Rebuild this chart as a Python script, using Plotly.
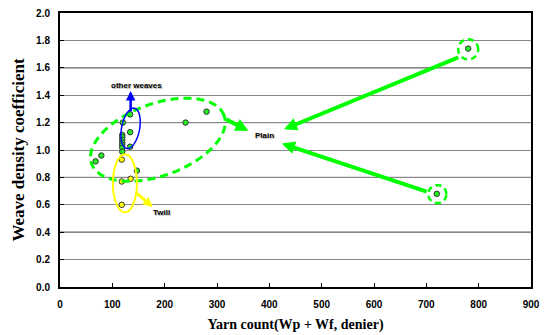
import numpy as np
import plotly.graph_objects as go

# ---- data ----
plain_x = [780, 720, 134, 280, 240, 120, 134, 119, 119, 119, 119, 119, 119, 119, 134, 79, 68, 147]
plain_y = [1.74, 0.68, 1.26, 1.28, 1.20, 1.20, 1.13, 1.11, 1.095, 1.073, 1.053, 1.036, 1.017, 0.988, 1.024, 0.96, 0.917, 0.849]
twill_x = [118, 118, 135, 118]
twill_y = [0.93, 0.77, 0.79, 0.60]

x_ticks = [0, 100, 200, 300, 400, 500, 600, 700, 800, 900]
y_ticks = [0.0, 0.2, 0.4, 0.6, 0.8, 1.0, 1.2, 1.4, 1.6, 1.8, 2.0]
y_dark = [0.4, 0.8, 1.2, 1.6]

# ---- helpers for annotation ellipses (pixel-sized, placed in data coords) ----
XPX = 471 / 900.0
YPX = 274 / 2.0


def ellipse_path(cx, cy, a_px, b_px, ang_deg, n=90):
    t = np.linspace(0, 2 * np.pi, n)
    ang = np.radians(ang_deg)
    u = a_px * np.cos(t)
    v = b_px * np.sin(t)
    dx = u * np.cos(ang) - v * np.sin(ang)
    dy = u * np.sin(ang) + v * np.cos(ang)
    xs = cx + dx / XPX
    ys = cy + dy / YPX
    return "M " + " L ".join(f"{x:.3f},{y:.4f}" for x, y in zip(xs, ys)) + " Z"


LIME = "#00ff00"
fig = go.Figure()

fig.add_trace(go.Scatter(x=plain_x, y=plain_y, mode="markers",
                         marker=dict(size=5.5, color="#22ee22", line=dict(color="#333333", width=1)),
                         showlegend=False))
fig.add_trace(go.Scatter(x=twill_x, y=twill_y, mode="markers",
                         marker=dict(size=5.5, color="#ffff00", line=dict(color="#333333", width=1)),
                         showlegend=False))

shapes = []
for yv in y_dark:
    shapes.append(dict(type="line", xref="paper", x0=0, x1=1, yref="y", y0=yv, y1=yv,
                       line=dict(color="black", width=1), layer="between"))

shapes.append(dict(type="path", xref="x", yref="y", path=ellipse_path(187, 1.075, 70.5, 36, 20),
                   line=dict(color=LIME, width=3, dash="8px,5px")))
shapes.append(dict(type="path", xref="x", yref="y", path=ellipse_path(134.9, 1.158, 20.5, 9, 79),
                   line=dict(color="#0000ff", width=1.5)))
shapes.append(dict(type="path", xref="x", yref="y", path=ellipse_path(124, 0.757, 29, 12, 90),
                   line=dict(color="#ffff00", width=2)))
shapes.append(dict(type="path", xref="x", yref="y", path=ellipse_path(780, 1.735, 10, 10, 0),
                   line=dict(color=LIME, width=2.5, dash="6px,4px")))
shapes.append(dict(type="path", xref="x", yref="y", path=ellipse_path(721, 0.678, 9, 9, 0),
                   line=dict(color=LIME, width=2.5, dash="6px,4px")))

annotations = []


def arrow(x0, y0, x1, y1, color, width, size):
    annotations.append(dict(x=x1, y=y1, ax=x0, ay=y0, xref="x", yref="y", axref="x", ayref="y",
                            text="", showarrow=True, arrowhead=2, arrowsize=size,
                            arrowwidth=width, arrowcolor=color))


arrow(764, 1.68, 428, 1.151, LIME, 4, 0.65)
arrow(703.5, 0.693, 424, 1.047, LIME, 4, 0.65)
arrow(314.6, 1.229, 360, 1.14, LIME, 4, 0.65)
arrow(135, 1.27, 135, 1.43, "#0000ff", 2.5, 0.75)
arrow(144.4, 0.693, 177, 0.584, "#ffff00", 3, 0.65)

txt_font = dict(family="Liberation Sans", size=8, color="black", weight="bold",
                shadow="1px 1px 1px #aaaaaa")
annotations.append(dict(x=391, y=1.107, xref="x", yref="y", text="Plain", showarrow=False, font=txt_font))
annotations.append(dict(x=146.4, y=1.471, xref="x", yref="y", text="other weaves", showarrow=False, font=txt_font))
annotations.append(dict(x=194, y=0.545, xref="x", yref="y", text="Twill", showarrow=False, font=txt_font))

tick_font = dict(family="Liberation Sans", size=10, color="black", weight="bold")
title_font = dict(family="Liberation Serif", size=14, color="black", weight="bold")

fig.update_layout(
    width=544, height=335,
    margin=dict(l=60, r=13, t=13, b=48),
    paper_bgcolor="white", plot_bgcolor="white",
    shapes=shapes, annotations=annotations,
    xaxis=dict(range=[0, 900], tickvals=x_ticks, ticktext=[str(v) for v in x_ticks],
               showgrid=False, zeroline=False, showline=True, linecolor="black", linewidth=2,
               mirror=True, ticks="inside", ticklen=4, tickcolor="black", tickwidth=1,
               tickfont=tick_font, ticklabelstandoff=7, automargin=False,
               title=dict(text="Yarn count(Wp + Wf, denier)", font=title_font, standoff=10)),
    yaxis=dict(range=[0, 2.0], tickvals=y_ticks, ticktext=[f"{v:.1f}" for v in y_ticks],
               showgrid=True, gridcolor="#888888", gridwidth=1, zeroline=False,
               showline=True, linecolor="black", linewidth=2, mirror=True,
               ticks="inside", ticklen=4, tickcolor="black", tickwidth=1,
               tickfont=tick_font, ticklabelstandoff=6, automargin=False,
               title=dict(text="Weave density coefficient", font=dict(family="Liberation Serif", size=17,
                                                                       color="black", weight="bold"),
                          standoff=7)),
)

fig.write_html("out.html")
